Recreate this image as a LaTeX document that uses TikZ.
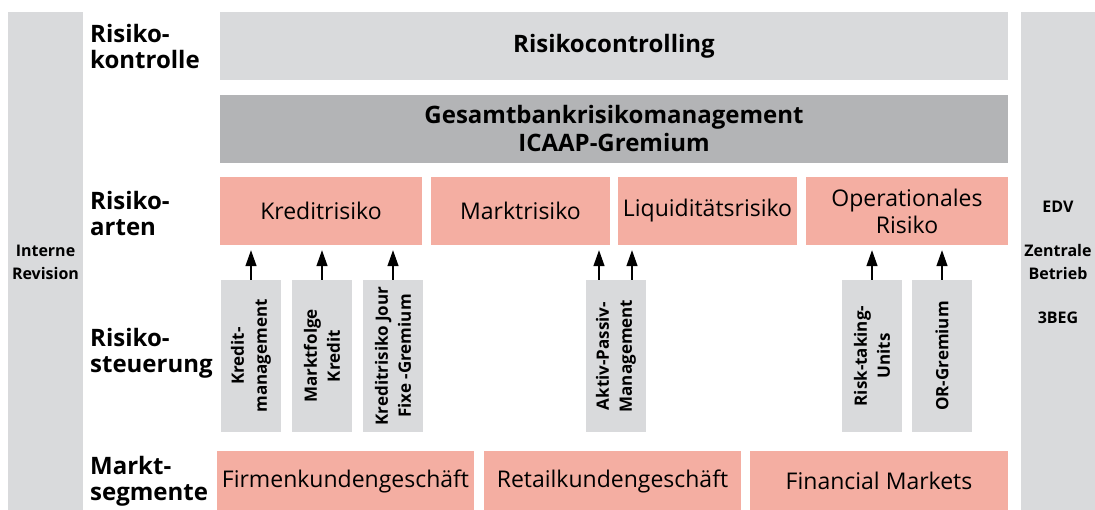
\documentclass[tikz,border=0pt]{standalone}
\usepackage{fontspec}
\setmainfont{Open Sans}
\usetikzlibrary{arrows.meta}
\definecolor{lgrey}{HTML}{D9DADC}
\definecolor{dgrey}{HTML}{B3B4B6}
\definecolor{salmon}{HTML}{F4AEA2}
\begin{document}
\begin{tikzpicture}[x=1pt,y=-1pt,
  box/.style={inner sep=0pt,align=center},
  sidebar/.style={box,fill=lgrey,minimum width=75,minimum height=500,
    font=\bfseries\fontsize{16}{23}\selectfont},
  lightbox/.style={box,fill=lgrey,minimum width=788,minimum height=68,
    font=\bfseries\fontsize{24}{28}\selectfont},
  darkbox/.style={lightbox,fill=dgrey},
  riskbox/.style={box,fill=salmon,minimum height=68,
    font=\fontsize{23}{27}\selectfont},
  segbox/.style={riskbox,minimum height=60},
  unitbox/.style={box,fill=lgrey,rotate=90,minimum width=152,minimum height=60,
    font=\bfseries\fontsize{17}{23}\selectfont},
  rowlabel/.style={anchor=west,inner sep=0pt,align=left,
    font=\bfseries\fontsize{24}{26}\selectfont},
  arr/.style={-{Triangle[width=11pt,length=16pt]},line width=1.4pt,shorten >=5pt}]
\useasboundingbox (0,0) rectangle (1095,510);

\node[sidebar] (irev) at (45.5,262) {Interne\\Revision};
\node[sidebar,minimum width=74] (edv) at (1058,262) {EDV\\[21pt]Zentrale\\Betrieb\\[21pt]3BEG};

\node[rowlabel] (lkontr) at (90,47) {Risiko-\\kontrolle};
\node[rowlabel] (larten) at (90,214) {Risiko-\\arten};
\node[rowlabel] (lsteuer) at (90,353) {Risiko-\\steuerung};
\node[rowlabel] (lmarkt) at (90,481) {Markt-\\segmente};

\node[lightbox] (ctrl) at (614,46) {Risikocontrolling};
\node[darkbox] (gbm) at (614,129) {Gesamtbankrisikomanagement\\ICAAP-Gremium};

\node[riskbox,minimum width=202] (kredit) at (321,211) {Kreditrisiko};
\node[riskbox,minimum width=179] (markt) at (520.5,211) {Marktrisiko};
\node[riskbox,minimum width=179] (liqui) at (707.5,211) {Liquiditätsrisiko};
\node[riskbox,minimum width=202] (oprisk) at (907,211) {Operationales\\Risiko};

\node[unitbox] (kman) at (251,356) {Kredit-\\management};
\node[unitbox] (mfolge) at (322,356) {Marktfolge\\Kredit};
\node[unitbox] (jourfixe) at (393,356) {Kreditrisiko Jour\\Fixe -Gremium};
\node[unitbox] (apman) at (616,356) {Aktiv-Passiv-\\Management};
\node[unitbox] (rtu) at (872,356) {Risk-taking-\\Units};
\node[unitbox] (orgrem) at (942,356) {OR-Gremium};

\node[segbox,minimum width=257] (firmen) at (345.5,481) {Firmenkundengeschäft};
\node[segbox,minimum width=257] (retail) at (612.5,481) {Retailkundengeschäft};
\node[segbox,minimum width=258] (finmkt) at (879,481) {Financial Markets};

\coordinate (ap1) at ([xshift=-17pt]apman.east);
\coordinate (ap2) at ([xshift=16pt]apman.east);

\draw[arr] (kman.east) -- (kman.east |- kredit.south);
\draw[arr] (mfolge.east) -- (mfolge.east |- kredit.south);
\draw[arr] (jourfixe.east) -- (jourfixe.east |- kredit.south);
\draw[arr] (ap1) -- (ap1 |- markt.south);
\draw[arr] (ap2) -- (ap2 |- liqui.south);
\draw[arr] (rtu.east) -- (rtu.east |- oprisk.south);
\draw[arr] (orgrem.east) -- (orgrem.east |- oprisk.south);
\end{tikzpicture}
\end{document}
